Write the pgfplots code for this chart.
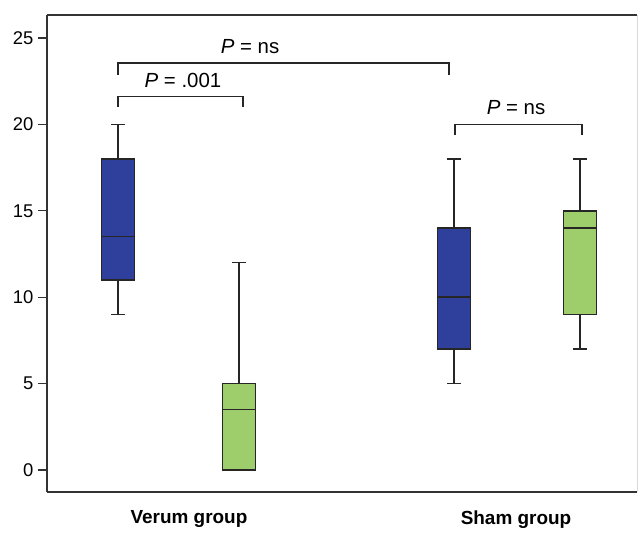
\documentclass[border=0pt]{standalone}
\usepackage{pgfplots}
\pgfplotsset{compat=1.18}
\usepgfplotslibrary{statistics}
\usepackage{fontspec}
\setmainfont{Liberation Sans}
\definecolor{boxblue}{HTML}{2F409C}
\definecolor{boxgreen}{HTML}{9DCE6B}
\definecolor{axgray}{HTML}{333333}
\begin{document}
\begin{tikzpicture}
\begin{axis}[
  scale only axis,
  width=590bp, height=477bp,
  xmin=0, xmax=590,
  ymin=-1.27, ymax=26.33,
  axis x line*=box,
  axis y line*=left,
  ytick={0,5,10,15,20,25},
  xtick={142,469},
  xticklabels={Verum group,Sham group},
  x tick label style={font=\fontsize{19}{22}\selectfont\bfseries, yshift=-6bp},
  y tick label style={font=\fontsize{18.5}{22}\selectfont, xshift=-1bp},
  /pgf/number format/assume math mode=true,
  tick align=outside,
  major tick length=9bp,
  xtick style={draw=none},
  ytick style={line width=1.3pt, color=axgray},
  axis line style={line width=1.6pt, color=axgray, -},
  clip=false,
  boxplot/draw direction=y,
  boxplot/every box/.style={line width=1.4pt},
  boxplot/every whisker/.style={line width=1.3pt},
  boxplot/every median/.style={line width=1.5pt},
]
\addplot[boxplot prepared={draw position=71, lower whisker=9, lower quartile=11, median=13.5, upper quartile=18, upper whisker=20, box extend=33, whisker extend=14}, fill=boxblue, draw=black!85, line width=1.3pt] coordinates {};
\addplot[boxplot prepared={draw position=192, lower whisker=0, lower quartile=0, median=3.5, upper quartile=5, upper whisker=12, box extend=33, whisker extend=14}, fill=boxgreen, draw=black!85, line width=1.3pt] coordinates {};
\addplot[boxplot prepared={draw position=407, lower whisker=5, lower quartile=7, median=10, upper quartile=14, upper whisker=18, box extend=33, whisker extend=14}, fill=boxblue, draw=black!85, line width=1.3pt] coordinates {};
\addplot[boxplot prepared={draw position=533, lower whisker=7, lower quartile=9, median=14, upper quartile=15, upper whisker=18, box extend=33, whisker extend=14}, fill=boxgreen, draw=black!85, line width=1.3pt] coordinates {};
% faint right border
\draw[line width=1pt, black!15] (rel axis cs:1,0) -- (rel axis cs:1,1);
% brackets
\draw[line width=1.3pt, black!85] (axis cs:71,21.0) -- (axis cs:71,21.6) -- (axis cs:196,21.6) -- (axis cs:196,21.0);
\node[font=\fontsize{20.5}{24}\selectfont] at (axis cs:136,22.55) {\textit{P} = .001};
\draw[line width=1.3pt, black!85] (axis cs:71,22.85) -- (axis cs:71,23.55) -- (axis cs:402,23.55) -- (axis cs:402,22.85);
\node[font=\fontsize{20.5}{24}\selectfont] at (axis cs:203,24.5) {\textit{P} = ns};
\draw[line width=1.3pt, black!85] (axis cs:408,19.4) -- (axis cs:408,20.0) -- (axis cs:535,20.0) -- (axis cs:535,19.4);
\node[font=\fontsize{20.5}{24}\selectfont] at (axis cs:469,20.95) {\textit{P} = ns};
\coordinate (ll) at (rel axis cs:0,0);
\coordinate (ur) at (rel axis cs:1,1);
\end{axis}
\pgfresetboundingbox
\path[use as bounding box] ([shift={(-47bp,-40bp)}]ll) rectangle ([shift={(1bp,15bp)}]ur);
\end{tikzpicture}
\end{document}
